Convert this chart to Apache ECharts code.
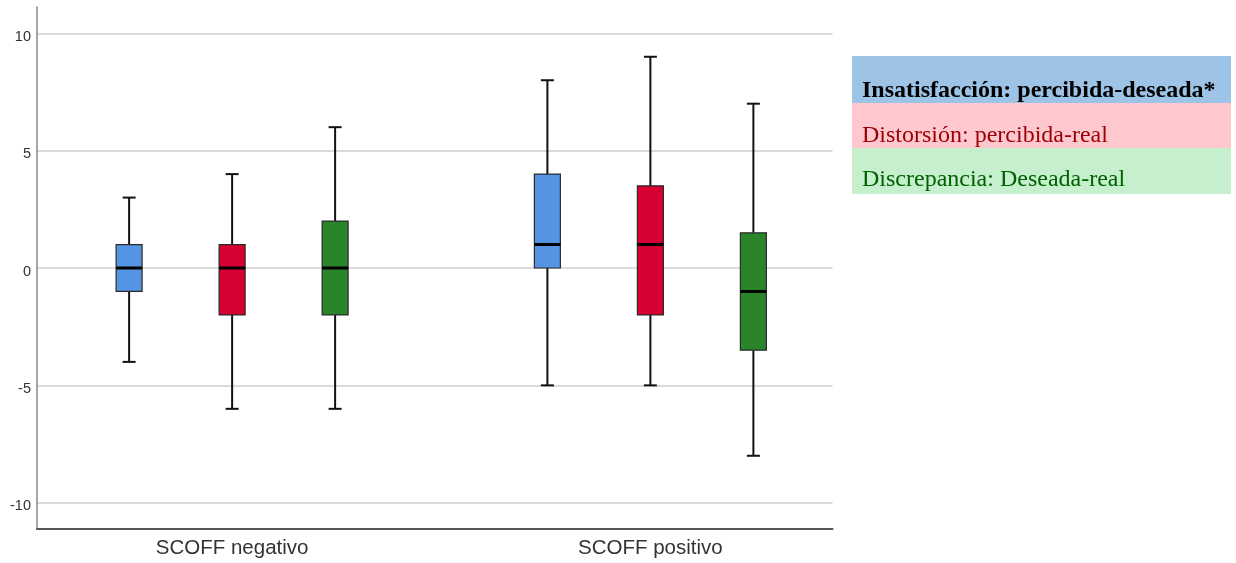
<!DOCTYPE html>
<html>
<head>
<meta charset="utf-8">
<title>SCOFF – boxplots</title>
<script src="https://cdn.jsdelivr.net/npm/echarts@6/dist/echarts.min.js"></script>
<style>
  html, body { margin: 0; padding: 0; background: #ffffff; }
  #chart { width: 1236px; height: 563px; }
</style>
</head>
<body>
<div id="chart"></div>
<script>
// Groups along the horizontal axis
const groups = ['SCOFF negativo', 'SCOFF positivo'];

// Measures, one box per group each
const measures = [
  'Insatisfacción: percibida-deseada*',
  'Distorsión: percibida-real',
  'Discrepancia: Deseada-real'
];

// Five-number summaries per group: [min, Q1, median, Q3, max]
const insatisfaccion = [
  [-4, -1, 0, 1, 3],
  [-5, 0, 1, 4, 8]
];
const distorsion = [
  [-6, -2, 0, 1, 4],
  [-5, -2, 1, 3.5, 9]
];
const discrepancia = [
  [-6, -2, 0, 2, 6],
  [-8, -3.5, -1, 1.5, 7]
];

// Value-axis tick labels
const yTicks = [-10, -5, 0, 5, 10];

const seriesValues = [insatisfaccion, distorsion, discrepancia];
const boxColors = ['#5594E3', '#D60033', '#2A8429'];
const legendFills = ['#9DC3E6', '#FFC7CE', '#C6EFCE'];
const legendText = ['#000000', '#9C0006', '#006100'];

const BOX_W = 26;      // box width, px
const CAP_W = 13;      // whisker cap width, px
const SLOT = 103;      // horizontal distance between boxes of a group, px

function boxRenderer(slotIndex) {
  const shift = (slotIndex - 1) * SLOT;
  return function (params, api) {
    const gx = api.value(0);
    const pMin = api.coord([gx, api.value(1)]);
    const pQ1 = api.coord([gx, api.value(2)]);
    const pMed = api.coord([gx, api.value(3)]);
    const pQ3 = api.coord([gx, api.value(4)]);
    const pMax = api.coord([gx, api.value(5)]);
    const cx = pMed[0] + shift;
    const hw = BOX_W / 2, hc = CAP_W / 2;
    const lineStyle = { stroke: '#111111', lineWidth: 2 };
    return {
      type: 'group',
      children: [
        { type: 'line', shape: { x1: cx, y1: pMax[1], x2: cx, y2: pQ3[1] }, style: lineStyle },
        { type: 'line', shape: { x1: cx, y1: pQ1[1], x2: cx, y2: pMin[1] }, style: lineStyle },
        { type: 'line', shape: { x1: cx - hc, y1: pMax[1], x2: cx + hc, y2: pMax[1] }, style: lineStyle },
        { type: 'line', shape: { x1: cx - hc, y1: pMin[1], x2: cx + hc, y2: pMin[1] }, style: lineStyle },
        {
          type: 'rect',
          shape: { x: cx - hw, y: pQ3[1], width: BOX_W, height: pQ1[1] - pQ3[1] },
          style: { fill: api.visual('color'), stroke: '#2b2b2b', lineWidth: 1.2 }
        },
        { type: 'line', shape: { x1: cx - hw, y1: pMed[1], x2: cx + hw, y2: pMed[1] }, style: { stroke: '#000000', lineWidth: 3 } }
      ]
    };
  };
}

const series = seriesValues.map(function (vals, si) {
  return {
    type: 'custom',
    name: measures[si],
    renderItem: boxRenderer(si),
    itemStyle: { color: boxColors[si] },
    encode: { x: 0, y: [1, 2, 3, 4, 5] },
    data: vals.map(function (v, gi) { return [gi].concat(v); }),
    silent: true,
    z: 3
  };
});

// Legend drawn as coloured bands with serif text
const legendRows = [
  { top: 56, h: 47, textY: 90.5, bold: true },
  { top: 103, h: 45, textY: 135.5, bold: false },
  { top: 148, h: 46, textY: 180, bold: false }
];
const legendGraphics = [];
legendRows.forEach(function (r, i) {
  legendGraphics.push({
    type: 'rect', left: 852, top: r.top,
    shape: { width: 379, height: r.h },
    style: { fill: legendFills[i] }, silent: true
  });
  legendGraphics.push({
    type: 'text', x: 862, y: r.textY,
    style: {
      text: measures[i],
      fill: legendText[i],
      font: (r.bold ? 'bold ' : '') + '24px "Liberation Serif", "Times New Roman", serif',
      verticalAlign: 'middle',
      align: 'left'
    },
    silent: true
  });
});

const chart = echarts.init(document.getElementById('chart'), null, { renderer: 'canvas' });
chart.setOption({
  animation: false,
  backgroundColor: '#ffffff',
  grid: { left: 37, right: 403.5, top: 7, bottom: 34, containLabel: false },
  xAxis: {
    type: 'value',
    min: -0.4665,
    max: 1.4354,
    axisLine: { show: true, onZero: false, lineStyle: { color: '#555555', width: 2 } },
    axisTick: { show: false },
    splitLine: { show: false },
    axisLabel: {
      customValues: [0, 1],
      formatter: function (v) { return groups[Math.round(v)]; },
      margin: 9,
      fontSize: 20.5,
      fontFamily: '"Liberation Sans", Arial, sans-serif',
      color: '#333333'
    }
  },
  yAxis: {
    type: 'value',
    min: -11.12,
    max: 11.12,
    axisLine: { show: true, onZero: false, lineStyle: { color: '#8a8a8a', width: 1.5 } },
    axisTick: { show: false, customValues: yTicks },
    splitLine: { show: true, lineStyle: { color: '#cfcfcf', width: 1.5 } },
    axisLabel: {
      customValues: yTicks,
      margin: 6,
      verticalAlign: 'top',
      lineHeight: 7,
      fontSize: 14.5,
      fontFamily: '"Liberation Sans", Arial, sans-serif',
      color: '#333333'
    }
  },
  series: series,
  graphic: legendGraphics
});
</script>
</body>
</html>
